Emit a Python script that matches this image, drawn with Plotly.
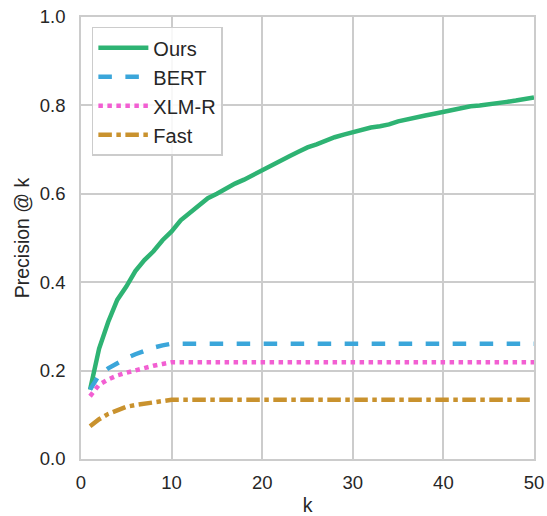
import plotly.graph_objects as go

k = list(range(1, 51))
ours = [0.157, 0.25, 0.31, 0.36, 0.39, 0.425, 0.45, 0.47, 0.495, 0.515,
        0.54, 0.557, 0.573, 0.59, 0.60, 0.612, 0.623, 0.632, 0.643, 0.653,
        0.665, 0.674, 0.685, 0.695, 0.705, 0.712, 0.721, 0.728, 0.734, 0.74,
        0.745, 0.75, 0.753, 0.757, 0.764, 0.769, 0.773, 0.777, 0.781, 0.785,
        0.789, 0.795, 0.798, 0.80, 0.802, 0.805, 0.808, 0.811, 0.814, 0.818]
bert = [0.157, 0.19, 0.205, 0.218, 0.228, 0.237, 0.245, 0.252, 0.257, 0.261] + [0.261] * 40
xlmr = [0.142, 0.168, 0.18, 0.189, 0.195, 0.201, 0.206, 0.211, 0.215, 0.219] + [0.219] * 40
fast = [0.074, 0.09, 0.102, 0.111, 0.118, 0.122, 0.125, 0.128, 0.131, 0.134] + [0.134] * 40

series = [
    ("Ours", ours, "#2eb373", "solid"),
    ("BERT", bert, "#3ba6da", "dash"),
    ("XLM-R", xlmr, "#f25fd2", "dot"),
    ("Fast", fast, "#c9922e", "dashdot"),
]

fig = go.Figure()
for name, vals, color, dash in series:
    fig.add_trace(go.Scatter(x=k, y=vals, mode="lines", name=name,
                             line=dict(color=color, width=4.5, dash=dash)))

fam = "Liberation Sans, Arial, sans-serif"
tick_font = dict(family=fam, size=18.5, color="#262626")
title_font = dict(family=fam, size=19.5, color="#262626")
legend_font = dict(family=fam, size=20, color="#262626")
axis_common = dict(showgrid=True, gridcolor="#cccccc", gridwidth=1.5,
                   showline=True, linecolor="#cccccc", linewidth=1.5, mirror=True,
                   zeroline=False, ticks="", tickfont=tick_font, automargin=False,
                   ticklabeloverflow="allow")
fig.update_layout(
    width=547, height=516,
    margin=dict(l=81, r=13, t=17, b=57),
    paper_bgcolor="white", plot_bgcolor="white",
    font=tick_font,
    xaxis=dict(range=[0, 50], dtick=10, ticklabelstandoff=6,
               title=dict(text="k", standoff=8, font=title_font), **axis_common),
    yaxis=dict(range=[0, 1.0], dtick=0.2, tickformat=".1f", ticklabelstandoff=10,
               title=dict(text="Precision @ k", standoff=5, font=title_font), **axis_common),
    legend=dict(x=0.024, y=0.978, xanchor="left", yanchor="top",
                bgcolor="rgba(255,255,255,0.85)", bordercolor="#cccccc", borderwidth=1.5,
                font=legend_font, tracegroupgap=0, itemwidth=50),
    showlegend=True,
)
# remove the default 8px page margin so the figure fills the window exactly
fig.write_html("out.html", config={"displayModeBar": False},
               post_script="document.body.style.margin='0';document.body.style.overflow='hidden';")
